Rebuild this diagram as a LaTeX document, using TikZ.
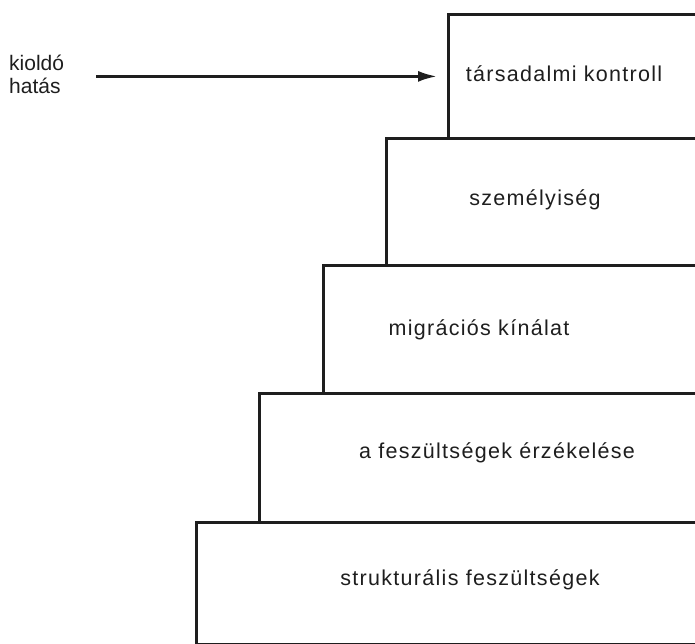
\documentclass[tikz,border=0pt]{standalone}
\usepackage{fontspec}
\setmainfont{Liberation Sans}
\newfontfamily\spaced[LetterSpace=6]{Liberation Sans}
\usetikzlibrary{arrows.meta}
\definecolor{ink}{HTML}{1E1E1E}
\begin{document}
\begin{tikzpicture}[x=1pt,y=-1pt,
  stepbox/.style={draw=ink,line width=2.8pt,rectangle,anchor=north west,inner sep=0pt},
  caption/.style={text=ink,font=\spaced\fontsize{21.5}{23}\selectfont,inner sep=0pt},
  sidenote/.style={text=ink,font=\fontsize{21}{23}\selectfont,inner sep=0pt},
  trigger/.style={-{Latex[length=19pt,width=11pt]},draw=ink,line width=2.8pt}]
  \useasboundingbox (0,0) rectangle (695,644);
  \clip (0,0) rectangle (695,644);
  % staircase of levels, each running off the right edge
  \node[stepbox,minimum width=300pt,minimum height=124pt] (b1) at (447,13) {};
  \node[stepbox,minimum width=360pt,minimum height=127pt] (b2) at (385,137) {};
  \node[stepbox,minimum width=420pt,minimum height=128pt] (b3) at (322,264) {};
  \node[stepbox,minimum width=480pt,minimum height=129pt] (b4) at (258,392) {};
  \node[stepbox,minimum width=540pt,minimum height=122pt] (b5) at (195,521) {};
  % level names
  \node[caption] (t1) at (564,74) {társadalmi kontroll};
  \node[caption] (t2) at (535,200) {személyiség};
  \node[caption] (t3) at (479,330) {migrációs kínálat};
  \node[caption] (t4) at (497,453) {a feszültségek érzékelése};
  \node[caption] (t5) at (470,580) {strukturális feszültségek};
  % triggering effect
  \node[sidenote,anchor=west,align=left] (trig) at (9,74) {kioldó\\hatás};
  \draw[trigger,shorten <=32pt,shorten >=10pt] (trig.east |- b1.west) -- (b1.west);
\end{tikzpicture}
\end{document}
